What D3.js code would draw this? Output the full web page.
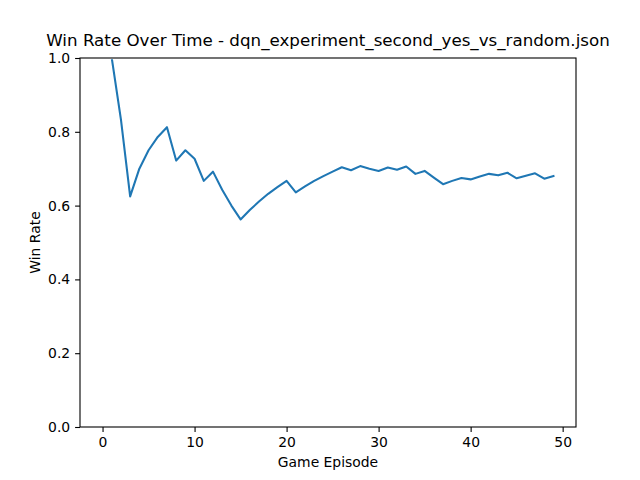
<!DOCTYPE html>
<html>
<head>
<meta charset="utf-8">
<script src="https://cdn.jsdelivr.net/npm/d3@7"></script>
<style>
  body { margin: 0; background: #fff; }
  text { font-family: "DejaVu Sans", sans-serif; fill: #000; }
</style>
</head>
<body>
<svg id="chart" width="640" height="480"></svg>
<script>
// episode index and cumulative win rate
const episodes = d3.range(0, 50);
const winRate = [
  1.0, 1.0, 0.833, 0.625, 0.7, 0.75, 0.786, 0.8125, 0.722, 0.75,
  0.727, 0.667, 0.692, 0.643, 0.6, 0.5625, 0.588, 0.611, 0.632, 0.65,
  0.667, 0.636, 0.652, 0.667, 0.68, 0.692, 0.704, 0.696, 0.707, 0.7,
  0.694, 0.703, 0.697, 0.706, 0.686, 0.694, 0.676, 0.658, 0.667, 0.675,
  0.671, 0.679, 0.686, 0.682, 0.689, 0.674, 0.681, 0.6875, 0.673, 0.68
];
const xTicks = [0, 10, 20, 30, 40, 50];
const yTicks = [0, 0.2, 0.4, 0.6, 0.8, 1.0];

const svg = d3.select("#chart");
const m = {left: 80, right: 576, top: 58, bottom: 427};

const xPad = (d3.max(episodes) - d3.min(episodes)) * 0.05;
const X = d3.scaleLinear()
  .domain([d3.min(episodes) - xPad, d3.max(episodes) + xPad])
  .range([m.left, m.right]);
const Y = d3.scaleLinear().domain([0, 1]).range([m.bottom, m.top]);

const data = episodes.map((e, i) => ({x: e, y: winRate[i]}));

// clip just inside the top spine so the run along y=1 hides under it
svg.append("defs").append("clipPath").attr("id", "clip")
  .append("rect")
  .attr("x", m.left).attr("y", m.top + 1.2)
  .attr("width", m.right - m.left).attr("height", m.bottom - m.top - 1.2);

svg.append("path")
  .datum(data)
  .attr("clip-path", "url(#clip)")
  .attr("fill", "none")
  .attr("stroke", "#1f77b4")
  .attr("stroke-width", 2.08)
  .attr("stroke-linejoin", "round")
  .attr("stroke-linecap", "square")
  .attr("d", d3.line().x(d => X(d.x)).y(d => Y(d.y)));

const xAxis = svg.append("g")
  .attr("transform", `translate(0,${m.bottom})`)
  .call(d3.axisBottom(X).tickValues(xTicks).tickFormat(d3.format("d")).tickSize(4.9).tickPadding(4.9));
const yAxis = svg.append("g")
  .attr("transform", `translate(${m.left},0)`)
  .call(d3.axisLeft(Y).tickValues(yTicks).tickFormat(d3.format(".1f")).tickSize(4.9).tickPadding(4.9));

[xAxis, yAxis].forEach(a => {
  a.select(".domain").remove();
  a.selectAll("line").attr("stroke", "#000").attr("stroke-width", 1.1);
  a.selectAll("text").style("font-size", "13.9px").attr("fill", "#000")
    .style("font-family", "DejaVu Sans, sans-serif");
});

svg.append("rect")
  .attr("x", m.left).attr("y", m.top)
  .attr("width", m.right - m.left).attr("height", m.bottom - m.top)
  .attr("fill", "none").attr("stroke", "#000").attr("stroke-width", 1.1);

svg.append("text")
  .attr("x", (m.left + m.right) / 2).attr("y", m.top - 12)
  .attr("text-anchor", "middle").style("font-size", "16.7px")
  .text("Win Rate Over Time - dqn_experiment_second_yes_vs_random.json");

svg.append("text")
  .attr("x", (m.left + m.right) / 2).attr("y", 467)
  .attr("text-anchor", "middle").style("font-size", "13.9px")
  .text("Game Episode");

svg.append("text")
  .attr("transform", `translate(40,${(m.top + m.bottom) / 2}) rotate(-90)`)
  .attr("text-anchor", "middle").style("font-size", "13.9px")
  .text("Win Rate");
</script>
</body>
</html>
